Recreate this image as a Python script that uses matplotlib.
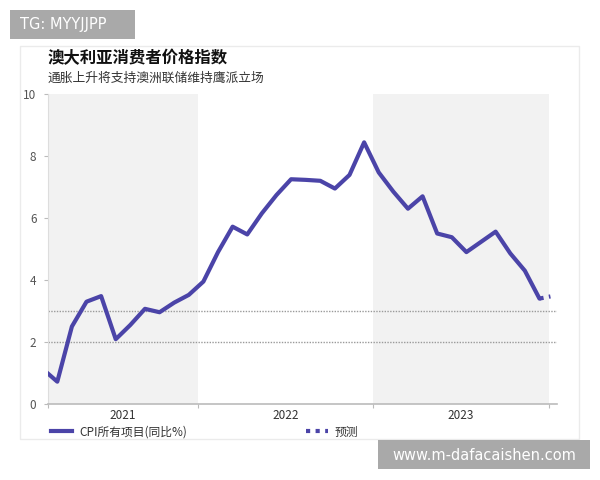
import matplotlib
matplotlib.use("Agg")
import matplotlib.pyplot as plt
from matplotlib.patches import Rectangle
from matplotlib.lines import Line2D

plt.rcParams['font.family'] = ['Noto Sans CJK SC', 'DejaVu Sans']

# 月度数据 (t = 月序号, 2021年2月起)
months = list(range(35))
cpi = [1.13, 0.72, 2.5, 3.3, 3.48, 2.09, 2.55, 3.07, 2.96, 3.27, 3.52, 3.95,
       4.9, 5.72, 5.47, 6.15, 6.74, 7.25, 7.23, 7.2, 6.95, 7.39, 8.44, 7.47,
       6.85, 6.3, 6.7, 5.5, 5.38, 4.9, 5.23, 5.56, 4.86, 4.3, 3.4]
fc_months = [34, 34.75]
fc_values = [3.4, 3.47]

years = ['2021', '2022', '2023']
year_edges = [0.33, 10.63, 22.63, 34.63]
shaded = [True, False, True]
ref_levels = [2, 3]
yticks = [0, 2, 4, 6, 8, 10]

title = '澳大利亚消费者价格指数'
subtitle = '通胀上升将支持澳洲联储维持鹰派立场'
legend_labels = ['CPI所有项目(同比%)', '预测']

line_color = '#4b44a8'
W, H = 600, 480

fig = plt.figure(figsize=(6, 4.8), dpi=100)
fig.patch.set_facecolor('white')

# 卡片边框
fig.patches.append(Rectangle((20 / W, 1 - 439 / H), 559 / W, 393 / H,
                             transform=fig.transFigure, facecolor='none',
                             edgecolor='#ebebeb', linewidth=1, zorder=-1))

ax = fig.add_axes([47.5 / W, 1 - 404 / H, (557 - 47.5) / W, 310 / H])
ax.set_facecolor('none')

for i, y in enumerate(years):
    if shaded[i]:
        ax.axvspan(year_edges[i], year_edges[i + 1], color='#f2f2f2', lw=0, zorder=0)

for lv in ref_levels:
    ax.axhline(lv, color='#9a9a9a', linestyle=(0, (1, 1)), linewidth=1, zorder=1)

ax.plot(months, cpi, color=line_color, linewidth=3, solid_joinstyle='round',
        solid_capstyle='round', zorder=3)
ax.plot(fc_months, fc_values, color=line_color, linewidth=3,
        linestyle=(0, (1, 1.3)), zorder=3)

ax.set_xlim(0.33, 35.2)
ax.set_ylim(0, 10)

ax.set_yticks(yticks)
ax.set_yticklabels([str(v) for v in yticks], fontsize=8.5, color='#555555')
ax.set_xticks(year_edges)
ax.set_xticklabels([])
ax.tick_params(axis='y', length=3, color='#bbbbbb', pad=5)
ax.tick_params(axis='x', length=3, color='#bbbbbb')

for i, y in enumerate(years):
    ax.text((year_edges[i] + year_edges[i + 1]) / 2, -0.37, y, ha='center', va='center',
            fontsize=8.5, color='#333333', transform=ax.transData)

for s in ['top', 'right']:
    ax.spines[s].set_visible(False)
ax.spines['left'].set_color('#dddddd')
ax.spines['bottom'].set_color('#bbbbbb')
ax.spines['bottom'].set_linewidth(1.2)

fig.text(48 / W, 1 - 58 / H, title, fontsize=11.8, fontweight='bold',
         color='#111111', va='center', ha='left')
fig.text(48 / W, 1 - 78 / H, subtitle, fontsize=9.2, color='#333333',
         va='center', ha='left')

handles = [Line2D([], [], color=line_color, linewidth=3),
           Line2D([], [], color=line_color, linewidth=3, linestyle=(0, (1, 1.3)))]
fig.legend(handles, legend_labels, loc='center left',
           bbox_to_anchor=(51 / W, 1 - 432 / H), ncol=2, frameon=False,
           fontsize=8.5, handlelength=1.8, handletextpad=0.6,
           columnspacing=10.1, borderpad=0, borderaxespad=0, labelcolor='#333333')

# 水印
fig.patches.append(Rectangle((10 / W, 1 - 39 / H), 125 / W, 29 / H,
                             transform=fig.transFigure, facecolor='#a9a9a9',
                             edgecolor='none', zorder=5))
fig.text(20 / W, 1 - 25 / H, 'TG: MYYJJPP', fontsize=10.5, color='white',
         va='center', ha='left', family='DejaVu Sans', zorder=6)
fig.patches.append(Rectangle((378 / W, 1 - 469 / H), 212 / W, 29 / H,
                             transform=fig.transFigure, facecolor='#a9a9a9',
                             edgecolor='none', zorder=5))
fig.text(484 / W, 1 - 455 / H, 'www.m-dafacaishen.com', fontsize=10.5, color='white',
         va='center', ha='center', family='DejaVu Sans', zorder=6)

fig.savefig('out.png', dpi=100)
